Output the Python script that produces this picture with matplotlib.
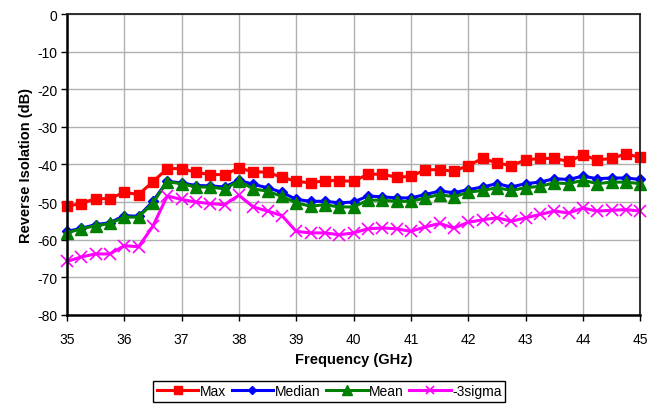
import numpy as np
import matplotlib
matplotlib.use("Agg")
import matplotlib.pyplot as plt

plt.rcParams['font.family'] = ['Liberation Sans', 'DejaVu Sans']
plt.rcParams['axes.unicode_minus'] = False

# frequency points, 0.25 GHz steps
freq = [35 + 0.25 * i for i in range(41)]

max_db = [-51.1, -50.4, -49.1, -49.1, -47.4, -48.0, -44.6, -41.1, -41.1, -42.1,
          -42.7, -42.7, -41.0, -41.9, -42.1, -43.4, -44.5, -44.9, -44.3, -44.3,
          -44.5, -42.6, -42.6, -43.4, -43.2, -41.4, -41.4, -41.8, -40.3, -38.4,
          -39.6, -40.3, -38.8, -38.4, -38.4, -39.2, -37.5, -38.8, -38.4, -37.2,
          -38.1]
median_db = [-57.8, -57.0, -56.0, -55.5, -53.6, -53.8, -49.8, -44.5, -44.9, -45.6,
             -45.7, -46.0, -44.2, -45.3, -46.2, -47.4, -49.3, -49.8, -49.8, -50.2,
             -50.0, -48.4, -48.6, -48.9, -48.9, -48.0, -47.1, -47.5, -46.7, -46.0,
             -45.1, -46.0, -45.1, -44.7, -43.8, -44.0, -43.1, -43.8, -43.6, -43.6,
             -44.0]
mean_db = [-58.2, -57.1, -56.3, -55.7, -54.0, -54.0, -50.2, -44.6, -45.1, -46.0,
           -46.0, -46.5, -44.4, -46.5, -47.1, -48.5, -50.2, -51.1, -50.7, -51.3,
           -51.3, -49.5, -49.5, -49.8, -49.8, -48.9, -48.0, -48.6, -47.4, -46.9,
           -46.2, -46.9, -46.2, -45.8, -44.9, -45.1, -44.2, -45.1, -44.7, -44.7,
           -45.1]
sigma3_db = [-65.8, -64.6, -63.8, -63.8, -61.6, -61.9, -56.4, -48.4, -49.3, -50.0,
             -50.4, -50.7, -48.2, -51.3, -52.4, -53.6, -57.8, -58.2, -58.2, -58.7,
             -58.2, -57.1, -56.9, -57.1, -57.8, -56.6, -55.7, -56.9, -55.4, -54.7,
             -54.2, -55.1, -54.2, -53.3, -52.4, -52.9, -51.6, -52.4, -52.2, -52.0,
             -52.4]

fig = plt.figure(figsize=(6.56, 4.06), dpi=100)
ax = fig.add_axes([0.102, 0.222, 0.874, 0.741])

ax.plot(freq, max_db, color='#ff0000', lw=2.2, marker='s', ms=7.5, label='Max', clip_on=False)
ax.plot(freq, median_db, color='#0000ff', lw=2.2, marker='D', ms=5, label='Median', clip_on=False)
ax.plot(freq, mean_db, color='#008000', lw=2.2, marker='^', ms=8.5, label='Mean', clip_on=False)
ax.plot(freq, sigma3_db, color='#ff00ff', lw=2.2, marker='x', ms=8, mew=1.2, label='-3sigma', clip_on=False)

ax.set_xlim(35, 45)
ax.set_ylim(-80, 0)
ax.set_xticks(range(35, 46))
ax.set_yticks(range(-80, 1, 10))
ax.grid(True, color='#b0b0b0', lw=1)
ax.set_axisbelow(True)
ax.tick_params(direction='out', length=4, width=1, labelsize=10, pad=3)
ax.tick_params(axis='x', pad=8)

for side in ['left', 'bottom']:
    ax.spines[side].set_linewidth(1.8)
    ax.spines[side].set_color('black')
for side in ['top', 'right']:
    ax.spines[side].set_linewidth(1.3)
    ax.spines[side].set_color('#202020')

ax.set_xlabel('Frequency (GHz)', fontsize=10.5, fontweight='bold', labelpad=5)
ax.set_ylabel('Reverse Isolation (dB)', fontsize=10.5, fontweight='bold', labelpad=3)

fig.legend(loc='center', bbox_to_anchor=(0.502, 0.034), ncol=4, fontsize=10,
           frameon=True, fancybox=False, edgecolor='black', framealpha=1,
           handlelength=3.0, handletextpad=0.1, columnspacing=0.4,
           borderpad=0.25, borderaxespad=0, markerscale=0.8)

fig.savefig('out.png', dpi=100)
